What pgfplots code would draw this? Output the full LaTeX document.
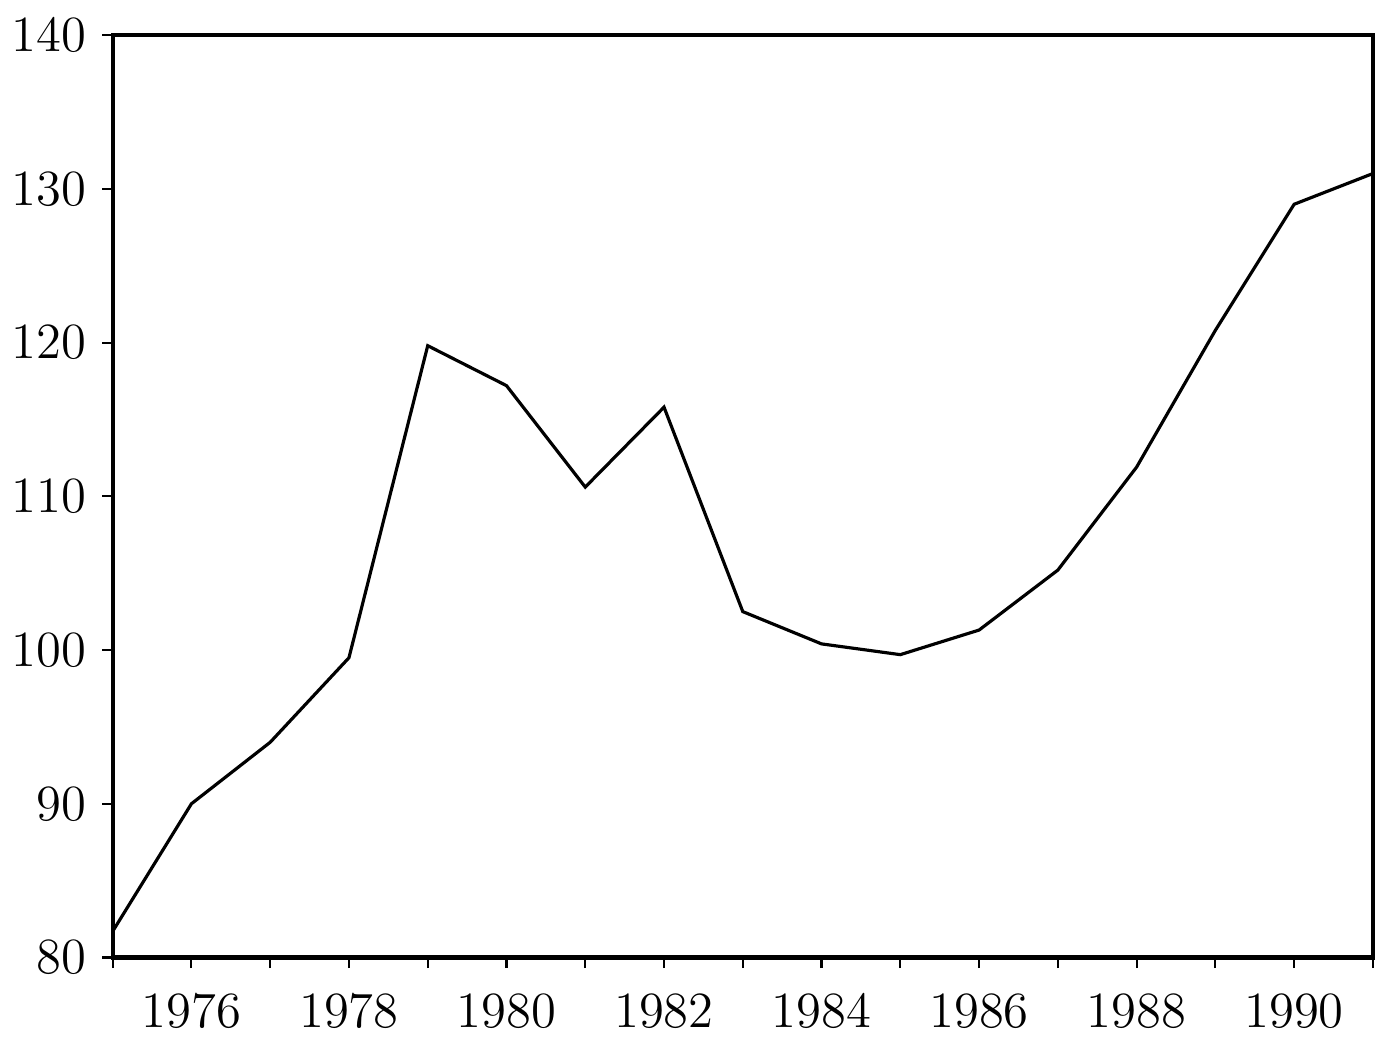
\documentclass[border=0pt]{standalone}
\usepackage{pgfplots}
\pgfplotsset{compat=1.18}
\begin{document}
\begin{tikzpicture}
\begin{axis}[
  scale only axis,
  width=358pt, height=262pt,
  xmin=1975, xmax=1991, ymin=80, ymax=140,
  xtick={1976,1978,...,1990},
  minor xtick={1975,1977,...,1991},
  ytick={80,90,...,140},
  xticklabel style={/pgf/number format/1000 sep={}},
  tick label style={font=\fontsize{13.5}{15}\selectfont},
  tick align=outside,
  xtick pos=bottom, ytick pos=left,
  major tick length=3pt, minor tick length=3pt,
  every tick/.style={black, line width=0.6pt},
  axis line style={line width=1.2pt},
  xticklabel shift=4pt,
  yticklabel style={xshift=-1pt},
]
\addplot[black, line width=0.9pt] coordinates {
(1975,81.7) (1976,90.0) (1977,94.0) (1978,99.5) (1979,119.8)
(1980,117.2) (1981,110.6) (1982,115.8) (1983,102.5) (1984,100.4)
(1985,99.7) (1986,101.3) (1987,105.2) (1988,111.9) (1989,120.8)
(1990,129.0) (1991,131.0)
};
\end{axis}
\path ([yshift=10pt]current axis.north);
\path ([yshift=-5pt]current axis.south);
\end{tikzpicture}
\end{document}
